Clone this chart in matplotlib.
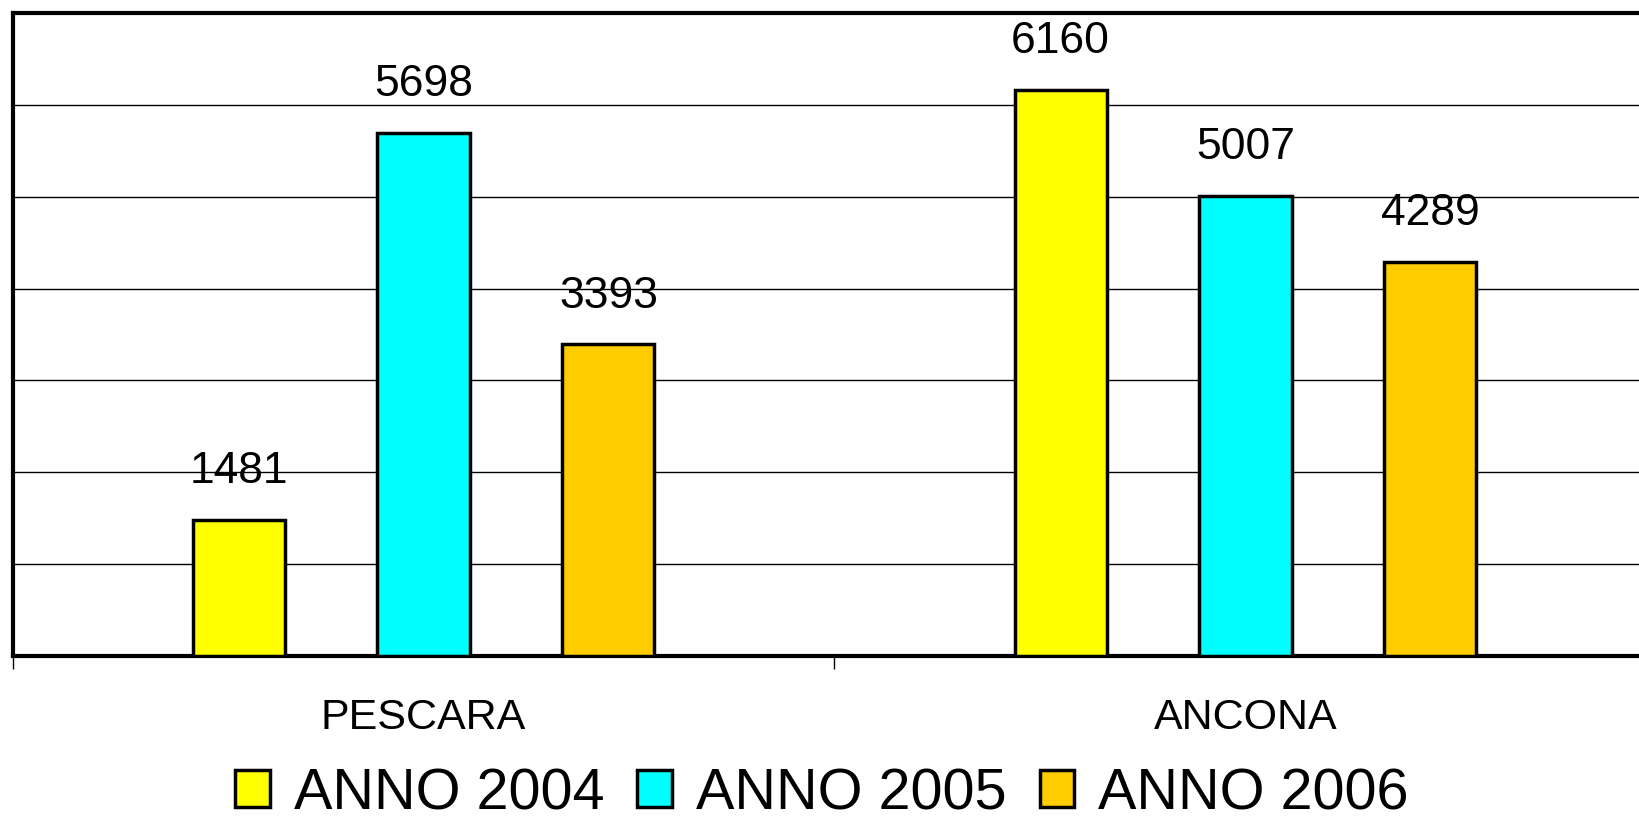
import matplotlib.pyplot as plt
import numpy as np

plt.rcParams['font.family'] = ['Liberation Sans', 'DejaVu Sans']

# Data
cities = ["PESCARA", "ANCONA"]
years = ["ANNO 2004", "ANNO 2005", "ANNO 2006"]
anno_2004 = [1481, 6160]
anno_2005 = [5698, 5007]
anno_2006 = [3393, 4289]
series = [anno_2004, anno_2005, anno_2006]
colors = ["#FFFF00", "#00FFFF", "#FFCC00"]

fig = plt.figure(figsize=(16.39, 8.21), dpi=100)
# axes runs past the right edge of the figure, like the original
ax = fig.add_axes([12.5 / 1639, 165 / 821, 1644 / 1639, 643 / 821])

x = np.arange(len(cities)) + 0.5
offsets = [-0.225, 0.0, 0.225]
width = 0.112

for vals, off, col, lab in zip(series, offsets, colors, years):
    bars = ax.bar(x + off, vals, width, color=col, edgecolor="black",
                  linewidth=2.5, label=lab, zorder=3)
    for b, v in zip(bars, vals):
        ax.annotate(str(v), (b.get_x() + b.get_width() / 2, v),
                    xytext=(0, 20), textcoords="offset points",
                    ha="center", va="bottom", fontsize=32)

ax.set_xlim(0, 2)
ax.set_ylim(0, 7000)
ax.set_yticks(np.arange(0, 7001, 1000))
ax.set_yticklabels([])
ax.tick_params(axis="y", length=0)
ax.grid(axis="y", color="black", linewidth=1.0, zorder=0)

ax.set_xticks([0, 1, 2])
ax.set_xticklabels([])
ax.tick_params(axis="x", which="major", direction="out", length=9, width=1)
ax.set_xticks(x, minor=True)
ax.set_xticklabels(cities, minor=True, fontsize=31)
ax.tick_params(axis="x", which="minor", length=0, pad=30)

for s in ax.spines.values():
    s.set_linewidth(3)

fig.legend(loc="lower center", bbox_to_anchor=(822 / 1639, 0.0), ncol=3,
           frameon=False, fontsize=41.5, handlelength=0.6, handleheight=0.6,
           handletextpad=0.42, columnspacing=0.57, borderpad=0.0,
           borderaxespad=0.0)

fig.savefig("out.png", dpi=100)
